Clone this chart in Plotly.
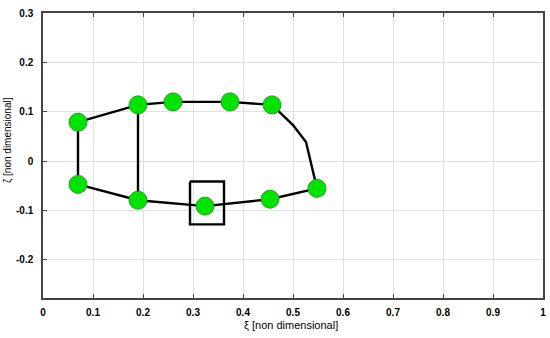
import plotly.graph_objects as go

# profile nodes (green markers)
node_xi = [0.07, 0.19, 0.26, 0.374, 0.458, 0.548, 0.454, 0.324, 0.19, 0.07]
node_zeta = [0.079, 0.114, 0.12, 0.12, 0.114, -0.055, -0.077, -0.091, -0.079, -0.047]

# closed outline of the section
outline_xi = [0.07, 0.19, 0.26, 0.374, 0.458, 0.50, 0.526, 0.548, 0.454, 0.324, 0.19, 0.07, 0.07]
outline_zeta = [0.079, 0.114, 0.12, 0.12, 0.114, 0.073, 0.039, -0.055, -0.077, -0.091, -0.079, -0.047, 0.079]

# internal web
web_xi = [0.19, 0.19]
web_zeta = [0.114, -0.079]

# highlight box around selected node
box_xi = [0.294, 0.362, 0.362, 0.294, 0.294]
box_zeta = [-0.041, -0.041, -0.128, -0.128, -0.041]

x_ticks = [0, 0.1, 0.2, 0.3, 0.4, 0.5, 0.6, 0.7, 0.8, 0.9, 1]
x_labels = ["0", "0.1", "0.2", "0.3", "0.4", "0.5", "0.6", "0.7", "0.8", "0.9", "1"]
y_ticks = [-0.2, -0.1, 0, 0.1, 0.2, 0.3]
y_labels = ["-0.2", "-0.1", "0", "0.1", "0.2", "0.3"]

fig = go.Figure()
fig.add_trace(go.Scatter(x=outline_xi, y=outline_zeta, mode="lines",
                         line=dict(color="black", width=2.4), hoverinfo="skip"))
fig.add_trace(go.Scatter(x=web_xi, y=web_zeta, mode="lines",
                         line=dict(color="black", width=2.4), hoverinfo="skip"))
fig.add_trace(go.Scatter(x=box_xi, y=box_zeta, mode="lines",
                         line=dict(color="black", width=2.4), hoverinfo="skip"))
fig.add_trace(go.Scatter(x=node_xi, y=node_zeta, mode="markers",
                         marker=dict(size=18, color="#00e400",
                                     line=dict(color="#22a022", width=1))))

axis_common = dict(
    showline=True, linecolor="#444", linewidth=1.5,
    showgrid=True, gridcolor="#e0e0e0", gridwidth=1,
    zeroline=False, ticks="inside", ticklen=4, tickcolor="#444",
    automargin=False,
    tickfont=dict(family="Liberation Sans", size=10, color="black", weight="bold"),
)

fig.update_layout(
    width=550, height=338,
    margin=dict(l=43, r=7, t=13, b=40, autoexpand=False),
    plot_bgcolor="white", paper_bgcolor="white",
    showlegend=False,
    xaxis=dict(range=[0, 1], tickvals=x_ticks, ticktext=x_labels, ticklabelstandoff=4,
               mirror="ticks", **axis_common),
    yaxis=dict(range=[-0.277, 0.3], tickvals=y_ticks, ticktext=y_labels, ticklabelstandoff=6,
               mirror=True, **axis_common),
    annotations=[
        dict(text="ξ [non dimensional]", xref="paper", yref="paper", x=0.496, y=-0.095,
             showarrow=False, yanchor="middle",
             font=dict(family="Liberation Sans", size=11, color="black")),
        dict(text="ζ [non dimensional]", xref="paper", yref="paper", x=-0.07, y=0.554,
             showarrow=False, textangle=-90, xanchor="center", yanchor="middle",
             font=dict(family="Liberation Sans", size=10, color="black")),
    ],
)

fig.write_html("out.html", config={"displayModeBar": False},
               post_script="document.body.style.margin='0';")
